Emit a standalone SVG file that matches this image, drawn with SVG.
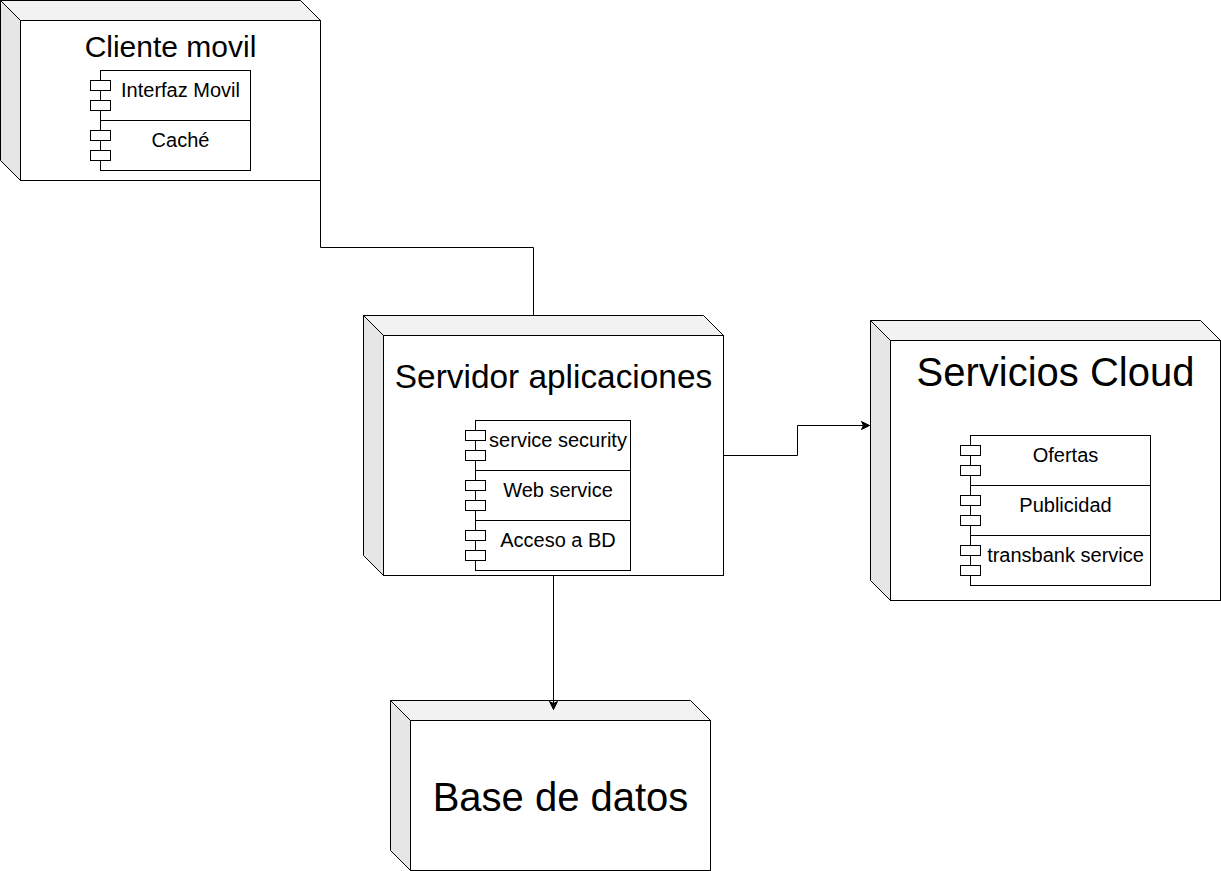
<svg xmlns="http://www.w3.org/2000/svg" width="1221" height="871" viewBox="0 0 1221 871">
<style>
.top{fill:#F2F2F2;stroke:#000;stroke-width:1}
.side{fill:#E6E6E6;stroke:#000;stroke-width:1}
.front{fill:#FFFFFF;stroke:#000;stroke-width:1}
.comp{fill:#FFFFFF;stroke:#000;stroke-width:1}
.edge{fill:none;stroke:#000;stroke-width:1}
text{font-family:"Liberation Sans",Arial,sans-serif;fill:#000;text-anchor:middle}
.ct{font-size:20px}
</style>
<defs>
<marker id="arrow" markerWidth="10" markerHeight="10" refX="0" refY="0" viewBox="-9 -5 10 10" orient="auto" markerUnits="userSpaceOnUse">
<path d="M-8,-4 L0,0 L-8,4 L-6,0 Z" fill="#000" stroke="#000" stroke-width="1"/>
</marker>
</defs>
<g transform="translate(0.5,0.5)">
<g id="cliente-movil">
<polygon class="top" points="0,0 300,0 320,20 20,20"/>
<polygon class="side" points="0,0 20,20 20,180 0,160"/>
<rect class="front" x="20" y="20" width="300" height="160"/>
<text x="170" y="56" style="font-size:30px">Cliente movil</text>
<g id="interfaz-movil">
<rect class="comp" x="100" y="70" width="150" height="50"/>
<rect class="comp" x="90" y="80" width="20" height="10"/>
<rect class="comp" x="90" y="100" width="20" height="10"/>
<text class="ct" x="180" y="96">Interfaz Movil</text>
</g>
<g id="cache">
<rect class="comp" x="100" y="120" width="150" height="50"/>
<rect class="comp" x="90" y="130" width="20" height="10"/>
<rect class="comp" x="90" y="150" width="20" height="10"/>
<text class="ct" x="180" y="146">Caché</text>
</g>
</g>
<g id="servidor-aplicaciones">
<polygon class="top" points="363,315 703,315 723,335 383,335"/>
<polygon class="side" points="363,315 383,335 383,575 363,555"/>
<rect class="front" x="383" y="335" width="340" height="240"/>
<text x="553" y="387" style="font-size:33.4px">Servidor aplicaciones</text>
<g id="service-security">
<rect class="comp" x="475" y="420" width="155" height="50"/>
<rect class="comp" x="465" y="430" width="20" height="10"/>
<rect class="comp" x="465" y="450" width="20" height="10"/>
<text class="ct" x="557.5" y="446">service security</text>
</g>
<g id="web-service">
<rect class="comp" x="475" y="470" width="155" height="50"/>
<rect class="comp" x="465" y="480" width="20" height="10"/>
<rect class="comp" x="465" y="500" width="20" height="10"/>
<text class="ct" x="557.5" y="496">Web service</text>
</g>
<g id="acceso-bd">
<rect class="comp" x="475" y="520" width="155" height="50"/>
<rect class="comp" x="465" y="530" width="20" height="10"/>
<rect class="comp" x="465" y="550" width="20" height="10"/>
<text class="ct" x="557.5" y="546">Acceso a BD</text>
</g>
</g>
<g id="servicios-cloud">
<polygon class="top" points="870,320 1200,320 1220,340 890,340"/>
<polygon class="side" points="870,320 890,340 890,600 870,580"/>
<rect class="front" x="890" y="340" width="330" height="260"/>
<text x="1055" y="385" style="font-size:40px">Servicios Cloud</text>
<g id="ofertas">
<rect class="comp" x="970" y="435" width="180" height="50"/>
<rect class="comp" x="960" y="445" width="20" height="10"/>
<rect class="comp" x="960" y="465" width="20" height="10"/>
<text class="ct" x="1065" y="461">Ofertas</text>
</g>
<g id="publicidad">
<rect class="comp" x="970" y="485" width="180" height="50"/>
<rect class="comp" x="960" y="495" width="20" height="10"/>
<rect class="comp" x="960" y="515" width="20" height="10"/>
<text class="ct" x="1065" y="511">Publicidad</text>
</g>
<g id="transbank-service">
<rect class="comp" x="970" y="535" width="180" height="50"/>
<rect class="comp" x="960" y="545" width="20" height="10"/>
<rect class="comp" x="960" y="565" width="20" height="10"/>
<text class="ct" x="1065" y="561">transbank service</text>
</g>
</g>
<g id="base-de-datos">
<polygon class="top" points="390,700 690,700 710,720 410,720"/>
<polygon class="side" points="390,700 410,720 410,870 390,850"/>
<rect class="front" x="410" y="720" width="300" height="150"/>
<text x="560" y="810" style="font-size:40px">Base de datos</text>
</g>
<g id="connectors">
<path class="edge" d="M320,180 L320,247 L533,247 L533,315"/>
<path class="edge" d="M723,455 L797,455 L797,425 L869,425" marker-end="url(#arrow)"/>
<path class="edge" d="M553,575 L553,709" marker-end="url(#arrow)"/>
</g>
</g>
</svg>
